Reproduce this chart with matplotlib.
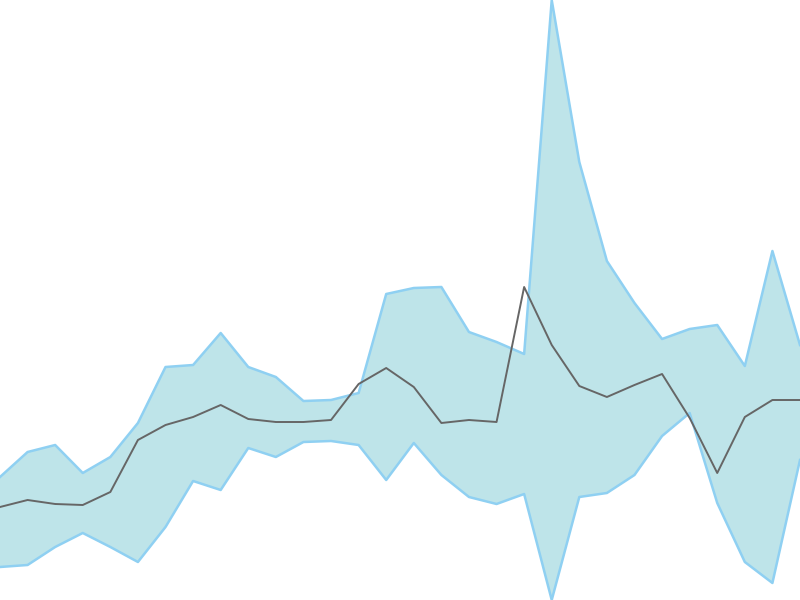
import matplotlib
matplotlib.use('Agg')
from matplotlib import pyplot as plt
import numpy as np

# values (arbitrary units, higher = up)
upper = [123, 148, 155, 127, 143, 177, 233, 235, 267, 233, 223, 199, 200, 207, 306,
         312, 313, 268, 258, 246, 600, 438, 339, 297, 261, 271, 275, 234, 349, 255]
lower = [33, 35, 53, 67, 53, 38, 73, 119, 110, 152, 143, 158, 159, 155, 120,
         157, 125, 103, 96, 106, 0, 103, 107, 125, 164, 187, 97, 38, 17, 140]
middle = [93, 100, 96, 95, 108, 160, 175, 183, 195, 181, 178, 178, 180, 216, 232,
          213, 177, 180, 178, 313, 255, 214, 203, 215, 226, 182, 127, 183, 200, 200]


def main():
    x = np.arange(len(middle))
    fig = plt.figure(figsize=(8, 6), dpi=100)
    ax = fig.add_axes([0, 0, 1, 1])

    ax.fill_between(x, lower, upper, color='#bee4e9', lw=0)
    ax.plot(x, upper, color='#8fd0f2', lw=1.8)
    ax.plot(x, lower, color='#8fd0f2', lw=1.8)
    ax.plot(x, middle, color='#666666', lw=1.4)

    ax.set_xlim(0, len(middle) - 1)
    ax.set_ylim(min(lower), max(upper))
    ax.axis('off')
    fig.savefig('out.png', dpi=100)


if __name__ == "__main__":
    main()
